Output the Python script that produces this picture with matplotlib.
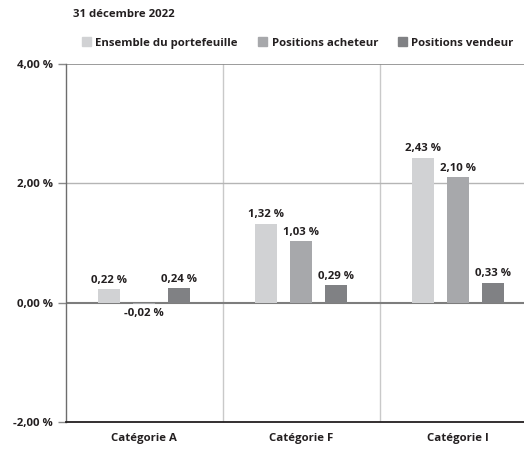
import numpy as np
import matplotlib.pyplot as plt
from matplotlib.patches import Patch

plt.rcParams['font.family'] = ['Open Sans', 'DejaVu Sans']

# data
categories = ['Catégorie A', 'Catégorie F', 'Catégorie I']
series = ['Ensemble du portefeuille', 'Positions acheteur', 'Positions vendeur']
ensemble = [0.22, 1.32, 2.43]
acheteur = [-0.02, 1.03, 2.10]
vendeur = [0.24, 0.29, 0.33]
yticks = [-2, 0, 2, 4]

colors = ['#d1d2d4', '#a7a8ab', '#808184']
text_col = '#231f20'
fs = 8.2

fig = plt.figure(figsize=(5.24, 4.49), dpi=100)
ax = fig.add_axes([0.1254, 0.0608, 0.899, 0.796])

x = np.arange(len(categories))
w = 0.14
off = 0.222
for i, (vals, c) in enumerate(zip([ensemble, acheteur, vendeur], colors)):
    pos = x + (i - 1) * off
    ax.bar(pos, vals, width=w, color=c, zorder=3)
    for p, v in zip(pos, vals):
        lab = ('%.2f' % v).replace('.', ',') + ' %'
        if v >= 0:
            ax.annotate(lab, (p, v), xytext=(0, 2.5), textcoords='offset points',
                        ha='center', va='bottom', fontsize=fs, fontweight='bold',
                        color=text_col)
        else:
            ax.annotate(lab, (p, v), xytext=(0, -3), textcoords='offset points',
                        ha='center', va='top', fontsize=fs, fontweight='bold',
                        color=text_col)

ax.set_xlim(-0.5, 2.5)
ax.set_ylim(-2, 4)

# grid / reference lines
for xv in [0.5, 1.5]:
    ax.axvline(xv, color='#c9c9c9', lw=1, zorder=1)
ax.axhline(2, color='#b5b5b5', lw=1, zorder=1)
ax.axhline(4, color='#8a8a8a', lw=1.2, zorder=1)
ax.axhline(0, color='#7d7d7d', lw=1.5, zorder=2)

for s in ['top', 'right']:
    ax.spines[s].set_visible(False)
ax.spines['left'].set_color('#6d6d6d')
ax.spines['left'].set_linewidth(1)
ax.spines['bottom'].set_color('#231f20')
ax.spines['bottom'].set_linewidth(1.3)

ax.set_yticks(yticks)
ax.set_yticklabels([('%.2f' % v).replace('.', ',') + ' %' for v in yticks],
                   fontsize=fs, fontweight='bold', color=text_col)
ax.tick_params(axis='y', length=6, width=1, color='#8a8a8a', pad=3)
ax.set_xticks(x)
ax.set_xticklabels(categories, fontsize=fs, fontweight='bold', color=text_col)
ax.tick_params(axis='x', length=0, pad=8)

fig.text(0.139, 0.967, '31 décembre 2022', fontsize=fs, fontweight='bold',
         color=text_col, va='center')

handles = [Patch(color=c, label=s) for c, s in zip(colors, series)]
fig.legend(handles=handles, loc='center left', bbox_to_anchor=(0.156, 0.904),
           ncol=3, frameon=False, handlelength=0.8, handleheight=0.8,
           handletextpad=0.4, columnspacing=1.75, borderaxespad=0, borderpad=0,
           prop={'size': fs, 'weight': 'bold'}, labelcolor=text_col)

fig.savefig('out.png', dpi=100)
